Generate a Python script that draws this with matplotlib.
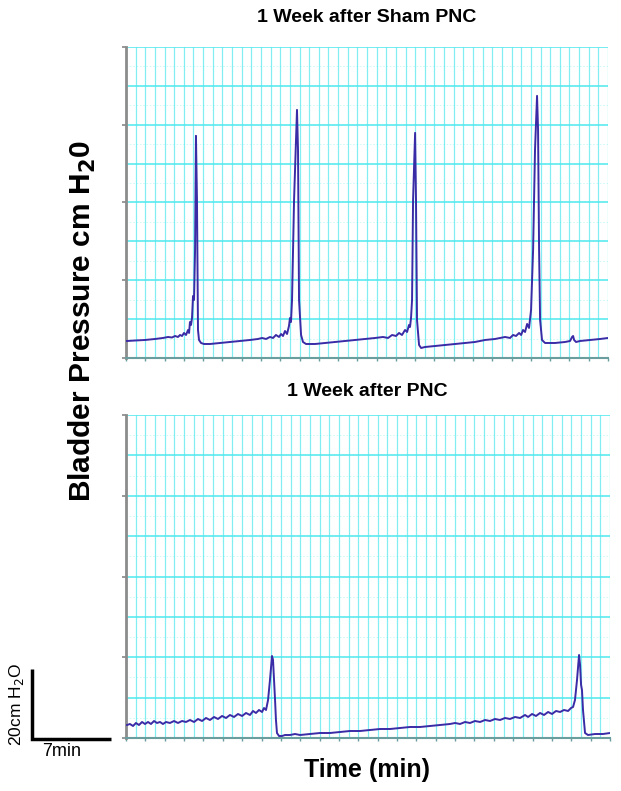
# cystometry traces: sham vs PNC

import numpy as np
import matplotlib.pyplot as plt

titles = ['1 Week after Sham PNC', '1 Week after PNC']

# time in min, pressure in cm H2O
sham_time = [0.09, 0.80, 1.68, 2.57, 3.27, 3.72, 4.07, 4.34, 4.60, 4.78, 4.96, 5.13, 5.31, 5.49,
             5.58, 5.66, 5.75, 5.84, 5.93, 6.02, 6.11, 6.19, 6.28, 6.37, 6.46, 6.64, 6.90, 7.43,
             8.32, 9.20, 10.09, 10.97, 11.68, 12.04, 12.39, 12.74, 13.01, 13.27, 13.54, 13.72,
             13.89, 14.07, 14.25, 14.42, 14.51, 14.60, 14.69, 14.87, 15.13, 15.22, 15.31, 15.49,
             15.66, 15.93, 16.73, 17.61, 18.50, 19.38, 20.27, 21.15, 22.04, 22.74, 23.19, 23.54,
             23.89, 24.16, 24.42, 24.69, 24.87, 25.04, 25.13, 25.22, 25.31, 25.40, 25.58, 25.66,
             25.75, 25.93, 26.11, 26.46, 27.35, 28.23, 29.12, 30.00, 30.88, 31.77, 32.65, 33.10,
             33.54, 33.98, 34.25, 34.51, 34.78, 34.96, 35.13, 35.31, 35.49, 35.66, 35.84, 36.02,
             36.19, 36.37, 36.46, 36.55, 36.64, 36.81, 37.08, 37.96, 38.85, 39.29, 39.47, 39.56,
             39.65, 39.82, 40.18, 41.06, 41.95, 42.65]
sham_pressure = [4.93, 5.07, 5.22, 5.51, 5.80, 6.09, 5.94, 6.38, 6.09, 6.67, 6.38, 7.25, 6.67, 8.12,
                 7.25, 10.43, 9.57, 11.59, 17.97, 16.81, 31.30, 64.35, 45.80, 8.12, 5.22, 4.35,
                 4.06, 4.06, 4.35, 4.64, 4.93, 5.22, 5.51, 5.80, 5.51, 6.09, 5.80, 6.67, 6.09,
                 6.96, 6.38, 7.83, 6.96, 9.28, 11.59, 10.43, 16.81, 45.80, 71.88, 60.29, 16.81,
                 6.67, 4.64, 4.06, 4.06, 4.35, 4.64, 4.93, 5.22, 5.51, 5.80, 6.09, 5.80, 6.67,
                 6.38, 7.25, 6.67, 8.12, 7.54, 9.57, 8.99, 11.59, 16.81, 45.80, 65.22, 45.80,
                 11.01, 3.77, 2.90, 3.19, 3.48, 3.77, 4.06, 4.35, 4.64, 5.22, 5.51, 5.80, 6.09,
                 5.80, 6.67, 6.38, 7.25, 6.67, 8.12, 7.54, 9.86, 8.70, 13.91, 31.30, 60.29, 75.94,
                 66.09, 31.30, 11.01, 5.22, 4.35, 4.35, 4.64, 4.93, 6.09, 6.38, 5.22, 4.64, 4.93,
                 5.22, 5.51, 5.80]

pnc_time = [0.09, 0.35, 0.62, 0.88, 1.15, 1.42, 1.68, 1.95, 2.21, 2.48, 2.74, 3.01, 3.27, 3.54,
            3.89, 4.25, 4.60, 4.96, 5.31, 5.66, 6.02, 6.37, 6.73, 7.08, 7.43, 7.79, 8.14, 8.50,
            8.85, 9.20, 9.56, 9.91, 10.27, 10.62, 10.97, 11.24, 11.50, 11.77, 12.04, 12.21,
            12.39, 12.57, 12.74, 12.92, 13.01, 13.10, 13.19, 13.27, 13.36, 13.54, 13.81, 14.07,
            14.51, 14.96, 15.40, 16.28, 17.17, 18.05, 18.94, 19.82, 20.71, 21.59, 22.48, 23.36,
            24.25, 25.13, 26.02, 26.90, 27.79, 28.67, 29.12, 29.56, 30.00, 30.44, 30.88, 31.33,
            31.77, 32.21, 32.65, 33.10, 33.54, 33.98, 34.42, 34.87, 35.31, 35.58, 35.93, 36.28,
            36.64, 36.99, 37.35, 37.70, 38.05, 38.41, 38.76, 39.12, 39.38, 39.56, 39.73, 39.91,
            40.09, 40.18, 40.27, 40.35, 40.44, 40.62, 40.88, 41.50, 42.21, 42.83]
pnc_pressure = [3.77, 4.06, 3.48, 4.35, 3.77, 4.64, 4.06, 4.64, 4.06, 4.93, 4.35, 4.64, 4.06, 4.64,
                4.35, 4.93, 4.35, 4.93, 4.64, 5.22, 4.64, 5.51, 4.93, 5.80, 5.22, 6.09, 5.51,
                6.38, 5.80, 6.67, 6.09, 6.96, 6.38, 7.25, 6.67, 7.83, 7.25, 8.12, 7.54, 8.70,
                8.12, 11.01, 16.81, 23.77, 22.61, 16.81, 11.01, 5.22, 1.45, 0.58, 0.58, 0.87,
                0.87, 1.16, 0.87, 1.16, 1.45, 1.45, 1.74, 2.03, 2.03, 2.32, 2.61, 2.61, 2.90,
                3.19, 3.19, 3.48, 3.77, 4.06, 4.35, 4.06, 4.64, 4.35, 4.93, 4.64, 5.22, 4.93,
                5.51, 5.22, 5.80, 5.51, 6.09, 5.80, 6.67, 6.09, 6.96, 6.38, 7.25, 6.67, 7.54,
                6.96, 7.83, 7.54, 8.12, 7.83, 8.70, 8.99, 11.01, 16.81, 24.06, 21.16, 15.36,
                13.91, 8.12, 1.45, 0.87, 1.16, 1.16, 1.45]

sham_ylim = 90.1
pnc_ylim = 93.6

trace_color = '#3a2ba6'
grid_color = '#4de8ee'

fig = plt.figure(figsize=(6.21, 7.91), dpi=100)
ax1 = fig.add_axes([0.2029, 0.5474, 0.7762, 0.3932])
ax2 = fig.add_axes([0.2029, 0.0670, 0.7794, 0.4083])

panels = [(ax1, sham_time, sham_pressure, sham_ylim, 42.65),
          (ax2, pnc_time, pnc_pressure, pnc_ylim, 42.83)]

for ax, t, p, ymax, xmax in panels:
    ax.set_xlim(0, xmax)
    ax.set_ylim(0, ymax)
    # paper-like grid: 50 columns, 8 rows, faint half rows
    ax.set_xticks(np.linspace(0, xmax, 26))
    ax.set_xticks(np.linspace(0, xmax, 51), minor=True)
    ax.set_yticks(np.linspace(0, ymax, 5))
    ax.set_yticks(np.linspace(0, ymax, 9), minor=True)
    ax.grid(which='both', axis='x', color=grid_color, lw=0.9, alpha=0.7)
    ax.grid(which='both', axis='y', color=grid_color, lw=1.1)
    for yy in np.linspace(0, ymax, 17)[1::2]:
        ax.axhline(yy, color=grid_color, lw=0.6, ls=(0, (2, 2)), alpha=0.3, zorder=0.5)
    ax.set_axisbelow(True)
    ax.tick_params(which='both', labelleft=False, labelbottom=False)
    ax.tick_params(axis='y', which='major', length=3, width=1.2, color='#888888')
    ax.tick_params(axis='y', which='minor', length=0)
    ax.tick_params(axis='x', which='major', length=2, width=1, color='#6a9e9e')
    ax.tick_params(axis='x', which='minor', length=0)
    for s in ['top', 'right']:
        ax.spines[s].set_visible(False)
    ax.spines['left'].set_color('#8c8c8c')
    ax.spines['left'].set_linewidth(2)
    ax.spines['bottom'].set_color('#6a9e9e')
    ax.spines['bottom'].set_linewidth(1.5)
    ax.plot(t, p, color=trace_color, lw=1.4, zorder=3)

fig.text(0.591, 1 - 18 / 791, titles[0], ha='center', va='center', fontsize=14,
         fontweight='bold', family='Liberation Sans')
fig.text(0.591, 1 - 392 / 791, titles[1], ha='center', va='center', fontsize=14,
         fontweight='bold', family='Liberation Sans')

fig.text(0.133, 1 - 321 / 791, 'Bladder Pressure cm H$_\\mathbf{2}$0', rotation=90, ha='center',
         va='center', fontsize=21.5, fontweight='bold', family='Liberation Sans')
fig.text(0.591, 0.0265, 'Time (min)', ha='center', va='center',
         fontsize=18, fontweight='bold', family='Liberation Sans')

# scale bar, 7 min x 20 cm H2O, drawn in the bottom panel's units
ax2.plot([-8.3, -8.3, -1.3], [20, -0.3, -0.3], color='black', lw=2.5, clip_on=False,
         solid_capstyle='butt', solid_joinstyle='miter')
fig.text(0.027, 1 - 704 / 791, '20cm H$_2$O', rotation=90, ha='center', va='center', fontsize=12.5,
         family='Liberation Sans')
fig.text(0.099, 1 - 752 / 791, '7min', ha='center', va='center', fontsize=13, family='Liberation Sans')

plt.savefig('out.png', dpi=100)
